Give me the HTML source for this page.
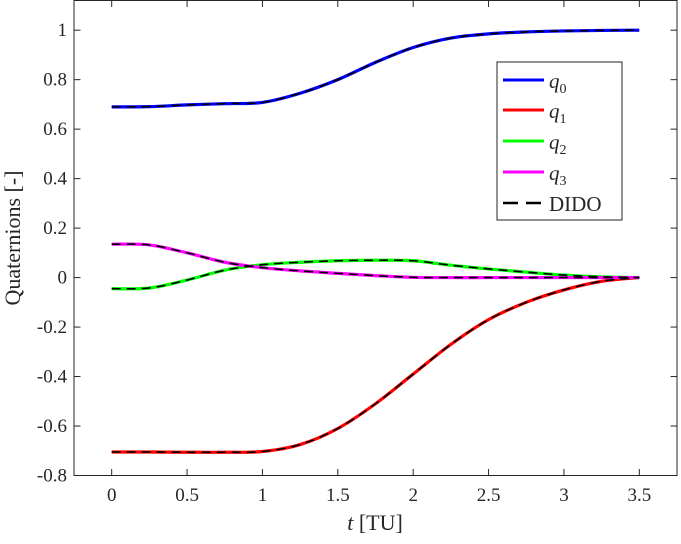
<!DOCTYPE html>
<html><head><meta charset="utf-8"><style>
body{margin:0;background:#fff;}
svg text{font-family:"Liberation Serif",serif;fill:#262626;}
</style></head><body>
<svg id="chart" width="681" height="539" xmlns="http://www.w3.org/2000/svg">
<rect width="681" height="539" fill="#fff"/>
<g id="grid"></g>
<g id="series"></g>
<rect x="74" y="0.5" width="603" height="475" fill="none" stroke="#262626" stroke-width="1"/>
<text x="375" y="530" font-size="22" text-anchor="middle"><tspan font-style="italic">t</tspan> [TU]</text>
<text transform="translate(20,238) rotate(-90)" font-size="22" text-anchor="middle">Quaternions [-]</text>
<g>
<rect x="497" y="62" width="125" height="158" fill="#fff" stroke="#262626" stroke-width="1"/>
<g><line x1="503" y1="80" x2="544" y2="80" stroke="#0000ff" stroke-width="3"/><text x="549" y="88" font-size="21" font-style="italic">q<tspan font-size="14" font-style="normal" dy="5">0</tspan></text></g>
<g><line x1="503" y1="110" x2="544" y2="110" stroke="#ff0000" stroke-width="3"/><text x="549" y="118" font-size="21" font-style="italic">q<tspan font-size="14" font-style="normal" dy="5">1</tspan></text></g>
<g><line x1="503" y1="141" x2="544" y2="141" stroke="#00ff00" stroke-width="3"/><text x="549" y="149" font-size="21" font-style="italic">q<tspan font-size="14" font-style="normal" dy="5">2</tspan></text></g>
<g><line x1="503" y1="172" x2="544" y2="172" stroke="#ff00ff" stroke-width="3"/><text x="549" y="180" font-size="21" font-style="italic">q<tspan font-size="14" font-style="normal" dy="5">3</tspan></text></g>
<g><line x1="503" y1="203" x2="544" y2="203" stroke="#000" stroke-width="2.5" stroke-dasharray="15,8"/><text x="549" y="211" font-size="21">DIDO</text></g>
</g>
</svg>
<script>
const xTicks=[0,0.5,1,1.5,2,2.5,3,3.5];
const xTickLabels=["0","0.5","1","1.5","2","2.5","3","3.5"];
const yTicks=[-0.8,-0.6,-0.4,-0.2,0,0.2,0.4,0.6,0.8,1];
const yTickLabels=["-0.8","-0.6","-0.4","-0.2","0","0.2","0.4","0.6","0.8","1"];
const tVals=[0,0.25,0.5,0.75,1,1.25,1.5,1.75,2,2.25,2.5,2.75,3,3.25,3.5];
const q0=[0.69,0.691,0.698,0.703,0.708,0.745,0.80,0.87,0.93,0.968,0.985,0.993,0.997,0.999,1.0];
const q1=[-0.705,-0.705,-0.706,-0.706,-0.703,-0.675,-0.61,-0.51,-0.39,-0.27,-0.17,-0.10,-0.05,-0.015,0];
const q2=[-0.045,-0.042,-0.01,0.03,0.052,0.062,0.068,0.070,0.068,0.050,0.035,0.022,0.010,0.003,0];
const q3=[0.135,0.132,0.10,0.062,0.040,0.027,0.017,0.008,0.001,0,0,0,0,0,0];
const X=v=>74+(v+0.25)/4.0*603;
const Y=v=>475.5-(v+0.8)/1.92*475;
const NS="http://www.w3.org/2000/svg";
const svg=document.getElementById('chart'),grid=document.getElementById('grid'),ser=document.getElementById('series');
function mk(tag,attrs,parent){const e=document.createElementNS(NS,tag);for(const k in attrs)e.setAttribute(k,attrs[k]);parent.appendChild(e);return e;}
xTicks.forEach((v,i)=>{
 const l=mk('line',{x1:X(v),x2:X(v),y1:475.5,y2:469,stroke:'#262626'},grid);
 
 
 const l2=mk('line',{x1:X(v),x2:X(v),y1:0.5,y2:7,stroke:'#262626'},grid);
 
 
 const t=mk('text',{x:X(v),y:501,'font-size':19,'text-anchor':'middle'},grid);t.textContent=xTickLabels[i];
 
 
});
yTicks.forEach((v,i)=>{
 const l=mk('line',{x1:74,x2:80.5,y1:Y(v),y2:Y(v),stroke:'#262626'},grid);
 
 
 const l2=mk('line',{x1:677,x2:670.5,y1:Y(v),y2:Y(v),stroke:'#262626'},grid);
 
 
 const t=mk('text',{x:67,y:Y(v)+6,'font-size':19,'text-anchor':'end'},grid);t.textContent=yTickLabels[i];
 
 
});
function pathD(vals){
 const p=tVals.map((t,i)=>[X(t),Y(vals[i])]);
 let d='M'+p[0][0]+','+p[0][1];
 for(let i=0;i<p.length-1;i++){
  const p0=p[Math.max(0,i-1)],p1=p[i],p2=p[i+1],p3=p[Math.min(p.length-1,i+2)];
  const c1=[p1[0]+(p2[0]-p0[0])/6,p1[1]+(p2[1]-p0[1])/6];
  const c2=[p2[0]-(p3[0]-p1[0])/6,p2[1]-(p3[1]-p1[1])/6];
  d+=' C'+c1+' '+c2+' '+p2;
 }
 return d;
}
const series=[['q0',q0,'#0000ff'],['q1',q1,'#ff0000'],['q2',q2,'#00ff00'],['q3',q3,'#ff00ff']];
series.forEach(s=>{
 const p=mk('path',{d:pathD(s[1]),fill:'none',stroke:s[2],'stroke-width':3.2},ser);
 
 
});
series.forEach(s=>{
 const p=mk('path',{d:pathD(s[1]),fill:'none',stroke:'#000','stroke-width':1.6,'stroke-dasharray':'9,6'},ser);
 
 
});
</script>
</body></html>
